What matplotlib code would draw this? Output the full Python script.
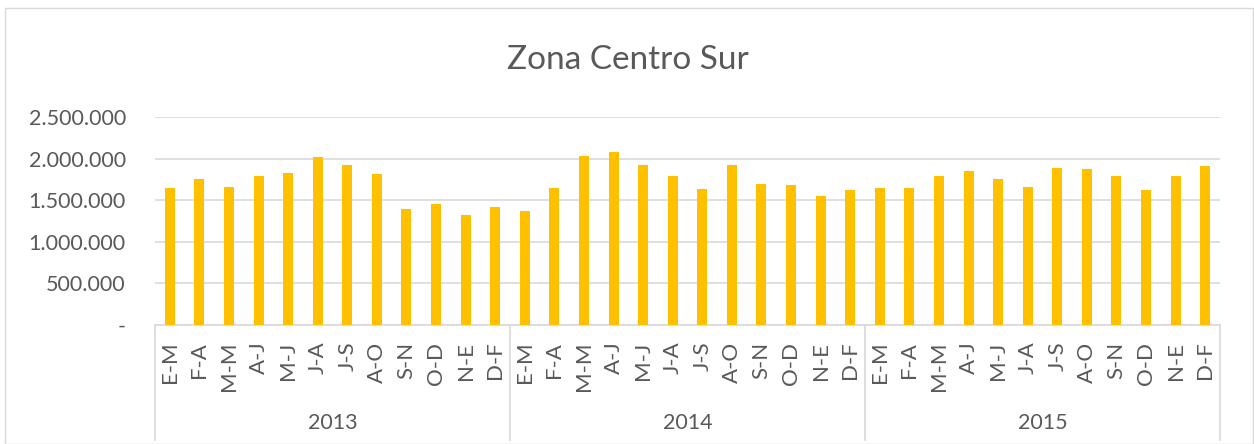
import matplotlib
matplotlib.use('Agg')
import matplotlib.pyplot as plt
from matplotlib.ticker import FuncFormatter

# data
years = ['2013', '2014', '2015']
months = ['E-M', 'F-A', 'M-M', 'A-J', 'M-J', 'J-A', 'J-S', 'A-O', 'S-N', 'O-D', 'N-E', 'D-F']
values_2013 = [1648000, 1752000, 1660000, 1792000, 1828000, 2021000,
               1925000, 1820000, 1391000, 1452000, 1327000, 1415000]
values_2014 = [1371000, 1648000, 2029000, 2081000, 1929000, 1788000,
               1636000, 1925000, 1696000, 1688000, 1552000, 1620000]
values_2015 = [1644000, 1644000, 1788000, 1852000, 1752000, 1660000,
               1885000, 1876000, 1788000, 1628000, 1788000, 1913000]

values = values_2013 + values_2014 + values_2015
labels = months * len(years)
x = list(range(len(values)))

plt.rcParams['font.family'] = ['Lato', 'DejaVu Sans']
text_color = '#595959'
grid_color = '#D9D9D9'

W, H = 1254, 444
fig = plt.figure(figsize=(W / 100, H / 100), dpi=100)

# outer chart frame
fig.patches.append(plt.Rectangle((5 / W, 0), (W - 6) / W, 1 - 8 / H, transform=fig.transFigure,
                                 fill=False, edgecolor=grid_color, linewidth=1))

left, right, top, bottom = 155, 1220, 117, 325
ax = fig.add_axes([left / W, 1 - bottom / H, (right - left) / W, (bottom - top) / H])

ax.bar(x, values, width=0.34, color='#FFC000', zorder=3)

ax.set_xlim(-0.5, len(values) - 0.5)
ax.set_ylim(0, 2500000)
ax.set_yticks(range(0, 2500001, 500000))
ax.yaxis.set_major_formatter(FuncFormatter(
    lambda v, p: '-' if v == 0 else f'{int(v):,}'.replace(',', '.')))
ax.tick_params(axis='y', length=0, pad=21, labelsize=15.5, labelcolor=text_color)
ax.grid(axis='y', color=grid_color, linewidth=1.2, zorder=0)
for s in ['top', 'right', 'left']:
    ax.spines[s].set_visible(False)
ax.spines['bottom'].set_color(grid_color)
ax.spines['bottom'].set_linewidth(1.2)

ax.set_xticks(x)
ax.set_xticklabels(labels, rotation=90, fontsize=16, color=text_color, va='top')
ax.tick_params(axis='x', length=0, pad=12)

# year groups below the month labels
depth = (440 - bottom) / (bottom - top)
n = len(months)
for i, yr in enumerate(years):
    ax.text(i * n + (n - 1) / 2, -(423 - bottom) / (bottom - top) * 2500000, yr,
            ha='center', va='center', fontsize=15.5, color=text_color)
for k in range(len(years) + 1):
    ax.plot([k * n - 0.5, k * n - 0.5], [0, -depth * 2500000], color=grid_color,
            linewidth=1.2, clip_on=False)

fig.text(628 / W, 1 - 60 / H, 'Zona Centro Sur', ha='center', va='center',
         fontsize=24, color=text_color)

fig.savefig('out.png', dpi=100)
